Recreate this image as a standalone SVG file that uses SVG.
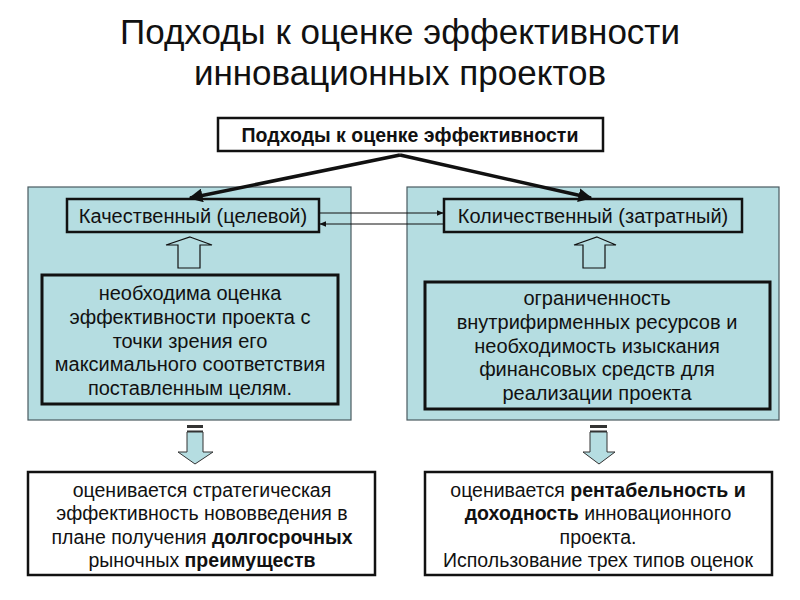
<svg xmlns="http://www.w3.org/2000/svg" width="800" height="600" viewBox="0 0 800 600">
<defs>
<style>
text{font-family:"Liberation Sans",Arial,sans-serif;fill:#111;text-anchor:middle}
.title{font-size:35px}
.body{font-size:20px}
.small{font-size:19.5px}
.b{font-weight:bold}
.panel{fill:#b5dde1;stroke:#4a5a60;stroke-width:1.2}
.hdr{fill:#b5dde1;stroke:#111;stroke-width:2.5}
.inner{fill:#b5dde1;stroke:#111;stroke-width:3}
.res{fill:#fff;stroke:#111;stroke-width:2.5}
.hollow{fill:#b5dde1;stroke:#111;stroke-width:1.2}
.down{fill:#b5dde1;stroke:#333;stroke-width:1}
.thick{stroke:#111;stroke-width:3.5;fill:none}
.thin{stroke:#111;stroke-width:1;fill:none}
</style>
<marker id="ah" viewBox="0 0 10 10" refX="9" refY="5" markerWidth="4" markerHeight="4" orient="auto"><path d="M0,0 L10,5 L0,10 z" fill="#111"/></marker>
<marker id="as" viewBox="0 0 10 10" refX="9" refY="5" markerWidth="7" markerHeight="7" orient="auto"><path d="M0,1 L10,5 L0,9 z" fill="#111"/></marker>
</defs>
<rect width="800" height="600" fill="#fff"/>
<g id="title">
<text class="title" x="400" y="44">Подходы к оценке эффективности</text>
<text class="title" x="400" y="85">инновационных проектов</text>
</g>
<g id="panels">
<rect id="panel-left" class="panel" x="28" y="187" width="323" height="233"/>
<rect id="panel-right" class="panel" x="407" y="187" width="372" height="233"/>
</g>
<g id="top">
<rect x="218" y="118" width="385" height="33" fill="#fff" stroke="#111" stroke-width="2.5"/>
<text class="b" x="410" y="142" style="font-size:19.5px">Подходы к оценке эффективности</text>
</g>
<g id="qual-header">
<rect class="hdr" x="67" y="199" width="252" height="33"/>
<text class="body" x="193" y="223">Качественный (целевой)</text>
</g>
<g id="quant-header">
<rect class="hdr" x="444" y="199" width="298" height="33"/>
<text class="body" x="593" y="223">Количественный (затратный)</text>
</g>
<g id="qual-reason">
<rect class="inner" x="42" y="275" width="296" height="129"/>
<text class="body" x="190" y="300">необходима оценка</text>
<text class="body" x="190" y="324">эффективности проекта с</text>
<text class="body" x="190" y="348">точки зрения его</text>
<text class="body" x="190" y="371">максимального соответствия</text>
<text class="body" x="190" y="395">поставленным целям.</text>
</g>
<g id="quant-reason">
<rect class="inner" x="425" y="282" width="345" height="127"/>
<text class="body" x="597" y="305">ограниченность</text>
<text class="body" x="597" y="329">внутрифирменных ресурсов и</text>
<text class="body" x="597" y="353">необходимость изыскания</text>
<text class="body" x="597" y="376">финансовых средств для</text>
<text class="body" x="597" y="400">реализации проекта</text>
</g>
<g id="qual-result">
<rect class="res" x="28" y="472" width="347" height="103"/>
<text class="small" x="202" y="497">оценивается стратегическая</text>
<text class="small" x="202" y="520">эффективность нововведения в</text>
<text class="small" x="202" y="544">плане получения <tspan class="b">долгосрочных</tspan></text>
<text class="small" x="202" y="567">рыночных <tspan class="b">преимуществ</tspan></text>
</g>
<g id="quant-result">
<rect class="res" x="425" y="472" width="347" height="103"/>
<text class="small" x="598" y="497">оценивается  <tspan class="b">рентабельность и</tspan></text>
<text class="small" x="598" y="520"><tspan class="b">доходность</tspan> инновационного</text>
<text class="small" x="598" y="544">проекта.</text>
<text class="small" x="598" y="567">Использование трех типов оценок</text>
</g>
<g id="connectors">
<path class="thick" d="M400,155 L190,198" marker-end="url(#ah)"/>
<path class="thick" d="M400,155 L591,198" marker-end="url(#ah)"/>
<path class="thin" d="M319,213 L443,213" marker-end="url(#as)"/>
<path class="thin" d="M444,224 L320,224" marker-end="url(#as)"/>
<path class="hollow" d="M190,237 L212,245 L200,245 L200,268 L178,268 L178,245 L166,245 Z"/>
<path class="hollow" d="M597,237 L616,245 L605,245 L605,268 L583,268 L583,245 L574,245 Z"/>
<g>
<path class="down" d="M187,432 L203,432 L203,452 L213,452 L195,464 L178,452 L187,452 Z"/>
<rect x="187" y="425" width="16" height="3" fill="#333"/>
<rect x="187" y="430.5" width="16" height="1.5" fill="#333"/>
</g>
<g>
<path class="down" d="M590,432 L607,432 L607,452 L615,452 L599,464 L583,452 L590,452 Z"/>
<rect x="590" y="425" width="17" height="3" fill="#333"/>
<rect x="590" y="430.5" width="17" height="1.5" fill="#333"/>
</g>
</g>
</svg>
